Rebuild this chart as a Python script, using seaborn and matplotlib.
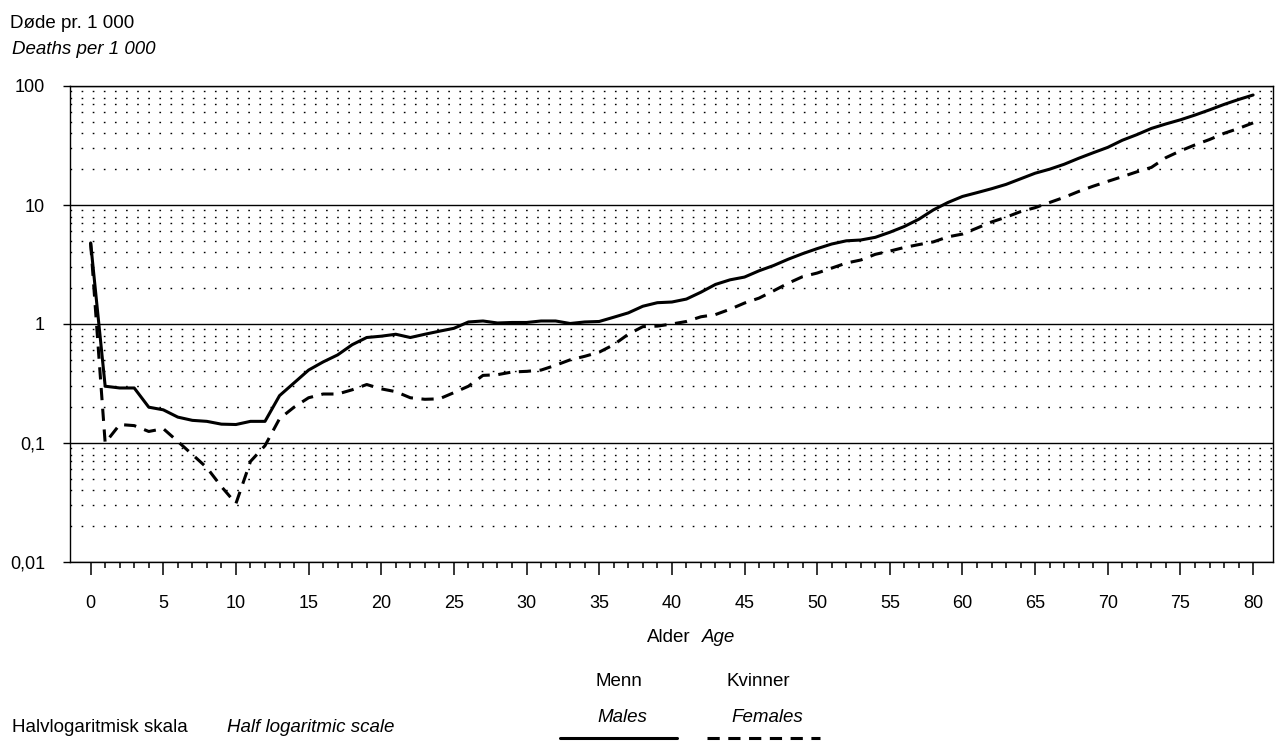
import matplotlib
matplotlib.use("Agg")
import matplotlib.pyplot as plt
from matplotlib.lines import Line2D
from matplotlib.ticker import FixedLocator, NullFormatter
import numpy as np
import pandas as pd
import seaborn as sns

sns.set_style("white")
plt.rcParams["font.family"] = ["Liberation Sans", "DejaVu Sans"]
plt.rcParams["font.size"] = 13.5
plt.rcParams["text.color"] = "black"

# Deaths per 1 000 by age
ages = list(range(0, 81))
males = [
    4.8, 0.30, 0.29, 0.29, 0.20, 0.19, 0.165, 0.155, 0.152, 0.144,
    0.143, 0.152, 0.152, 0.25, 0.32, 0.41, 0.48, 0.55, 0.67, 0.77,
    0.79, 0.82, 0.77, 0.82, 0.87, 0.92, 1.04, 1.06, 1.02, 1.03,
    1.03, 1.06, 1.06, 1.01, 1.04, 1.05, 1.14, 1.24, 1.41, 1.51,
    1.53, 1.62, 1.85, 2.15, 2.35, 2.48, 2.80, 3.10, 3.50, 3.90,
    4.30, 4.70, 5.00, 5.08, 5.35, 5.90, 6.60, 7.60, 9.10, 10.5,
    11.8, 12.7, 13.7, 14.9, 16.6, 18.5, 20.0, 22.0, 24.7, 27.5,
    30.5, 35.0, 39.0, 44.0, 48.0, 52.0, 57.0, 63.0, 70.0, 77.0,
    84.0,
]
females = [
    4.8, 0.10, 0.143, 0.14, 0.125, 0.132, 0.103, 0.08, 0.062, 0.043,
    0.031, 0.07, 0.095, 0.16, 0.20, 0.24, 0.258, 0.258, 0.28, 0.31,
    0.285, 0.27, 0.24, 0.233, 0.235, 0.265, 0.30, 0.37, 0.375, 0.395,
    0.40, 0.41, 0.45, 0.50, 0.535, 0.58, 0.67, 0.82, 0.95, 0.96,
    1.0, 1.05, 1.15, 1.20, 1.33, 1.50, 1.65, 1.90, 2.20, 2.50,
    2.68, 2.95, 3.25, 3.45, 3.85, 4.10, 4.40, 4.65, 4.90, 5.40,
    5.70, 6.40, 7.20, 7.90, 8.80, 9.50, 10.5, 11.6, 13.0, 14.4,
    15.8, 17.3, 19.0, 20.7, 25.0, 28.5, 32.0, 35.5, 40.0, 44.0,
    49.0,
]

y_ticks = [0.01, 0.1, 1, 10, 100]
y_tick_labels = ["0,01", "0,1", "1", "10", "100"]
x_ticks = list(range(0, 81, 5))

W, H = 1281, 742
fig = plt.figure(figsize=(W / 100, H / 100), dpi=100)
ax = fig.add_axes([70 / W, 1 - 562 / H, (1273 - 70) / W, (562 - 86) / H])

df = pd.DataFrame({"age": ages, "males": males, "females": females})
sns.lineplot(data=df, x="age", y="males", ax=ax, color="black", lw=2.2)
sns.lineplot(data=df, x="age", y="females", ax=ax, color="black", lw=2.2,
             linestyle=(0, (4, 2.8)))

ax.set_yscale("log")
ax.set_ylim(0.01, 100)
ax.set_xlim(-1.42, 81.37)

ax.set_yticks(y_ticks)
ax.set_yticklabels(y_tick_labels)
minor_y = [m * 10.0 ** e for e in range(-2, 2) for m in range(2, 10)]
ax.yaxis.set_minor_locator(FixedLocator(minor_y))
ax.yaxis.set_minor_formatter(NullFormatter())

ax.set_xticks(x_ticks)
ax.xaxis.set_minor_locator(FixedLocator(ages))

ax.tick_params(which="both", left=True, bottom=True)
ax.tick_params(axis="y", which="major", direction="out", length=5, width=1,
               pad=13, colors="black", labelsize=13)
ax.tick_params(axis="y", which="minor", length=0)
ax.tick_params(axis="x", which="major", direction="out", length=9.4, width=1.1,
               pad=14, colors="black", labelsize=13)
ax.tick_params(axis="x", which="minor", direction="out", length=4.3, width=1.1,
               colors="black")

ax.grid(False)
ax.set_axisbelow(True)
ax.yaxis.grid(True, which="major", color="black", lw=1.0, ls="-")
ax.yaxis.grid(True, which="minor", color="black", lw=1.0, ls=(0, (1.2, 6.8)))

for s in ax.spines.values():
    s.set_color("black")
    s.set_linewidth(1.0)

ax.set_xlabel("")
ax.set_ylabel("")

# Titles and notes
fig.text(10 / W, 1 - 23 / H, "Døde pr. 1 000", ha="left", va="center")
fig.text(12 / W, 1 - 50 / H, "Deaths per 1 000", ha="left", va="center",
         style="italic")
fig.text(647 / W, 1 - 638 / H, "Alder", ha="left", va="center")
fig.text(702 / W, 1 - 638 / H, "Age", ha="left", va="center", style="italic")
fig.text(12 / W, 1 - 728 / H, "Halvlogaritmisk skala", ha="left", va="center")
fig.text(227 / W, 1 - 728 / H, "Half logaritmic scale", ha="left", va="center",
         style="italic")

# Legend
fig.text(619 / W, 1 - 682 / H, "Menn", ha="center", va="center")
fig.text(622 / W, 1 - 717 / H, "Males", ha="center", va="center", style="italic")
fig.text(758 / W, 1 - 682 / H, "Kvinner", ha="center", va="center")
fig.text(767 / W, 1 - 717 / H, "Females", ha="center", va="center", style="italic")
fig.add_artist(Line2D([560 / W, 677 / W], [1 - 738 / H] * 2,
                      transform=fig.transFigure, color="black", lw=2.2))
fig.add_artist(Line2D([707 / W, 820 / W], [1 - 738 / H] * 2,
                      transform=fig.transFigure, color="black", lw=2.2,
                      linestyle=(0, (4, 2.8))))

fig.savefig("out.png", dpi=100)
